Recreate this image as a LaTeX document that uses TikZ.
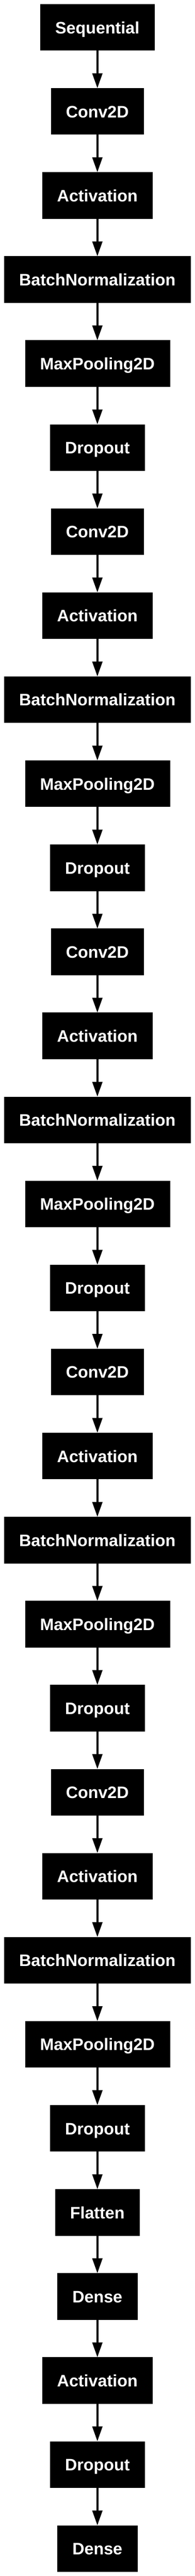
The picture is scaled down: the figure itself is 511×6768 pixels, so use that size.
\documentclass[tikz,border=0pt]{standalone}
\usepackage{fontspec}
\newfontfamily\layerfont{Liberation Sans}
\usetikzlibrary{arrows.meta}

\tikzset{
	layer/.style = {fill = black, draw = black, text = white,
		font = \layerfont\bfseries\fontsize{43.7}{50}\selectfont,
		minimum height = 121pt, inner xsep = 39pt, inner ysep = 0pt,
		text height = 33pt, text depth = 0pt}
}

\begin{document}
\begin{tikzpicture}[> = {Triangle[width = 26pt, length = 39pt]}, x = 1pt, y = -1pt]

	\useasboundingbox (0, 0) rectangle (511, 6768);

	% Layers

	\node [layer] (seq) at (255.5, 71.5) {Sequential};

	\node [layer] (conva) at (255.5, 292.3) {Conv2D};
	\node [layer] (acta) at (255.5, 513.1) {Activation};
	\node [layer] (bna) at (255.5, 733.9) {BatchNormalization};
	\node [layer] (poola) at (255.5, 954.7) {MaxPooling2D};
	\node [layer] (dropa) at (255.5, 1175.5) {Dropout};

	\node [layer] (convb) at (255.5, 1396.3) {Conv2D};
	\node [layer] (actb) at (255.5, 1617.1) {Activation};
	\node [layer] (bnb) at (255.5, 1837.9) {BatchNormalization};
	\node [layer] (poolb) at (255.5, 2058.7) {MaxPooling2D};
	\node [layer] (dropb) at (255.5, 2279.5) {Dropout};

	\node [layer] (convc) at (255.5, 2500.3) {Conv2D};
	\node [layer] (actc) at (255.5, 2721.1) {Activation};
	\node [layer] (bnc) at (255.5, 2941.9) {BatchNormalization};
	\node [layer] (poolc) at (255.5, 3162.7) {MaxPooling2D};
	\node [layer] (dropc) at (255.5, 3383.5) {Dropout};

	\node [layer] (convd) at (255.5, 3604.3) {Conv2D};
	\node [layer] (actd) at (255.5, 3825.1) {Activation};
	\node [layer] (bnd) at (255.5, 4045.9) {BatchNormalization};
	\node [layer] (poold) at (255.5, 4266.7) {MaxPooling2D};
	\node [layer] (dropd) at (255.5, 4487.5) {Dropout};

	\node [layer] (conve) at (255.5, 4708.3) {Conv2D};
	\node [layer] (acte) at (255.5, 4929.1) {Activation};
	\node [layer] (bne) at (255.5, 5149.9) {BatchNormalization};
	\node [layer] (poole) at (255.5, 5370.7) {MaxPooling2D};
	\node [layer] (drope) at (255.5, 5591.5) {Dropout};

	\node [layer] (flat) at (255.5, 5812.3) {Flatten};
	\node [layer] (densea) at (255.5, 6033.1) {Dense};
	\node [layer] (actf) at (255.5, 6253.9) {Activation};
	\node [layer] (dropf) at (255.5, 6474.7) {Dropout};
	\node [layer] (denseb) at (255.5, 6695.5) {Dense};

	% Connections

	\begin{scope}[->, line width = 5.3pt]

		\draw (seq) -- (conva);
		\draw (conva) -- (acta);
		\draw (acta) -- (bna);
		\draw (bna) -- (poola);
		\draw (poola) -- (dropa);

		\draw (dropa) -- (convb);
		\draw (convb) -- (actb);
		\draw (actb) -- (bnb);
		\draw (bnb) -- (poolb);
		\draw (poolb) -- (dropb);

		\draw (dropb) -- (convc);
		\draw (convc) -- (actc);
		\draw (actc) -- (bnc);
		\draw (bnc) -- (poolc);
		\draw (poolc) -- (dropc);

		\draw (dropc) -- (convd);
		\draw (convd) -- (actd);
		\draw (actd) -- (bnd);
		\draw (bnd) -- (poold);
		\draw (poold) -- (dropd);

		\draw (dropd) -- (conve);
		\draw (conve) -- (acte);
		\draw (acte) -- (bne);
		\draw (bne) -- (poole);
		\draw (poole) -- (drope);

		\draw (drope) -- (flat);
		\draw (flat) -- (densea);
		\draw (densea) -- (actf);
		\draw (actf) -- (dropf);
		\draw (dropf) -- (denseb);

	\end{scope}

\end{tikzpicture}
\end{document}
